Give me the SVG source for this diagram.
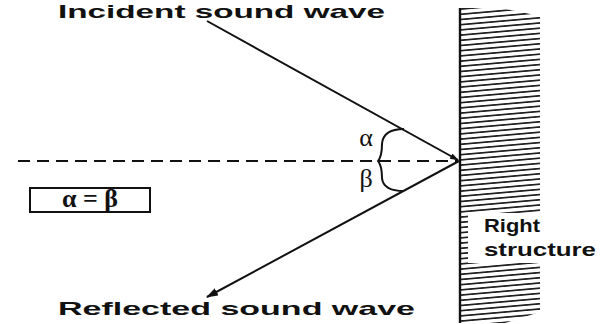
<svg xmlns="http://www.w3.org/2000/svg" width="602" height="324" viewBox="0 0 602 324">
<style>
.lbl{font-family:"Liberation Sans",Arial,sans-serif;font-weight:bold;font-size:19px;fill:#111}
.grk{font-family:"Liberation Serif","DejaVu Serif",serif;font-size:26px;fill:#111}
.ln{stroke:#111;stroke-width:2;fill:none}
</style>
<defs>
<marker id="ah" markerWidth="12" markerHeight="8" refX="11" refY="4" orient="auto" markerUnits="userSpaceOnUse">
<path d="M0,0 L12,4 L0,8 Z" fill="#111"/>
</marker>
<marker id="ahs" markerWidth="9" markerHeight="6" refX="8" refY="3" orient="auto" markerUnits="userSpaceOnUse">
<path d="M0,0 L9,3 L0,6 Z" fill="#111"/>
</marker>
<clipPath id="wallclip"><polygon points="461,8 500,8 540,16 540,312 505,323 461,323"/></clipPath>
<pattern id="hp" width="80" height="5.2" patternUnits="userSpaceOnUse" patternTransform="skewY(-5)">
<line x1="0" y1="2.6" x2="80" y2="2.6" stroke="#222" stroke-width="1.9"/>
</pattern>
</defs>
<rect width="602" height="324" fill="#fff"/>
<g id="wall">
<rect x="461" y="8" width="80" height="316" fill="url(#hp)" clip-path="url(#wallclip)"/>
<rect x="468" y="213" width="134" height="50" fill="#fff"/>
<line x1="460" y1="8" x2="460" y2="323" stroke="#111" stroke-width="2.4"/>
</g>
<g id="connectors">
<line x1="18" y1="161" x2="458" y2="161" class="ln" stroke-width="1.8" stroke-dasharray="12,7"/>
<line x1="207" y1="21" x2="458" y2="160" class="ln" marker-end="url(#ahs)"/>
<line x1="459" y1="161" x2="207" y2="297" class="ln" marker-end="url(#ah)"/>
<path d="M404,129 Q383,129 382,144 Q382,156 378,161 Q382,166 382,178 Q383,191 404,191" class="ln"/>
</g>
<g id="incident-label"><text x="58" y="18" class="lbl" textLength="327" lengthAdjust="spacingAndGlyphs">Incident sound wave</text></g>
<g id="reflected-label"><text x="58" y="315" class="lbl" textLength="357" lengthAdjust="spacingAndGlyphs">Reflected sound wave</text></g>
<g id="structure-label">
<text x="484" y="232" class="lbl" textLength="56" lengthAdjust="spacingAndGlyphs">Right</text>
<text x="484" y="256" class="lbl" textLength="112" lengthAdjust="spacingAndGlyphs">structure</text>
</g>
<g id="angles">
<text x="366" y="146" class="grk" text-anchor="middle">α</text>
<text x="366" y="187" class="grk" text-anchor="middle">β</text>
</g>
<g id="equation">
<rect x="30" y="188" width="120" height="24" fill="none" stroke="#111" stroke-width="2"/>
<text x="90" y="207" class="grk" font-size="23" font-weight="bold" text-anchor="middle">α = β</text>
</g>
</svg>
